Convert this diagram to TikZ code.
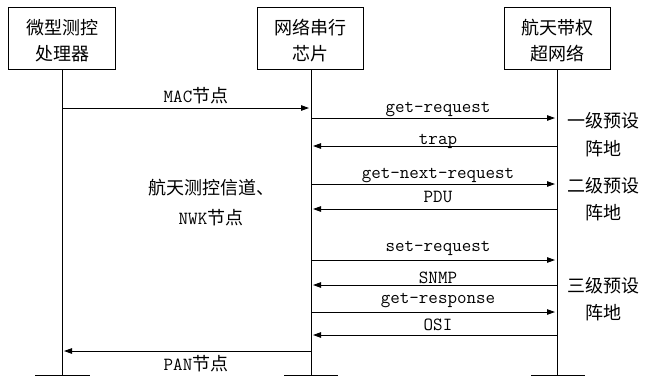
\documentclass[tikz,border=0pt]{standalone}
\usepackage{fontspec}
\newfontfamily\cjkf{Noto Sans CJK SC}
\newcommand\zh[1]{{\cjkf\fontsize{18bp}{20bp}\selectfont #1}}
\usetikzlibrary{arrows.meta}
\begin{document}
\begin{tikzpicture}[x=1bp,y=-1bp,
 box/.style={draw,line width=1bp,minimum width=106bp,minimum height=62bp,inner sep=0pt},
 life/.style={line width=1bp},
 msg/.style={line width=1bp,-{Triangle[length=8bp,width=5.5bp]},shorten >=2bp},
 lbl/.style={anchor=base,inner sep=0pt,font=\ttfamily\fontsize{18.5bp}{20bp}\selectfont},
 zhl/.style={anchor=base,inner sep=0pt,font=\cjkf\fontsize{18bp}{20bp}\selectfont}]
\useasboundingbox (0,0) rectangle (648,377);
% actors
\node[box] (b1) at (62,38) {};
\node[box] (b2) at (310,38) {};
\node[box] (b3) at (557,38) {};
\node[zhl] (b1t) at (62,34.5) {微型测控};
\node[zhl] (b1u) at (62,60) {处理器};
\node[zhl] (b2t) at (310,34.5) {网络串行};
\node[zhl] (b2u) at (310,60) {芯片};
\node[zhl] (b3t) at (557,34.5) {航天带权};
\node[zhl] (b3u) at (557,60) {超网络};
% ground points
\coordinate (g1) at (62,375);
\coordinate (g2) at (311,375);
\coordinate (g3) at (557,375);
\draw[life] (b1.south) -- (g1);
\draw[life] (b2.south -| g2) -- (g2);
\draw[life] (b3.south) -- (g3);
\draw[life] ([xshift=-27bp]g1) -- ([xshift=28bp]g1);
\draw[life] ([xshift=-27bp]g2) -- ([xshift=27bp]g2);
\draw[life] ([xshift=-26bp]g3) -- ([xshift=28bp]g3);
% message end points
\coordinate (m1a) at (62,108);  \coordinate (m1b) at (311,108);
\coordinate (m2a) at (311,118); \coordinate (m2b) at (557,118);
\coordinate (m3a) at (557,146); \coordinate (m3b) at (311,146);
\coordinate (m4a) at (311,184); \coordinate (m4b) at (557,184);
\coordinate (m5a) at (557,209); \coordinate (m5b) at (311,209);
\coordinate (m6a) at (311,260); \coordinate (m6b) at (557,260);
\coordinate (m7a) at (557,285); \coordinate (m7b) at (311,285);
\coordinate (m8a) at (311,312); \coordinate (m8b) at (557,312);
\coordinate (m9a) at (557,335); \coordinate (m9b) at (311,335);
\coordinate (m10a) at (311,351); \coordinate (m10b) at (62,351);
\draw[msg] (m1a) -- (m1b);
\draw[msg] (m2a) -- (m2b);
\draw[msg] (m3a) -- (m3b);
\draw[msg] (m4a) -- (m4b);
\draw[msg] (m5a) -- (m5b);
\draw[msg] (m6a) -- (m6b);
\draw[msg] (m7a) -- (m7b);
\draw[msg] (m8a) -- (m8b);
\draw[msg] (m9a) -- (m9b);
\draw[msg] (m10a) -- (m10b);
% message labels
\node[lbl] (l1) at (196,102) {MAC\zh{节点}};
\node[lbl] (l2) at (438,112) {get-request};
\node[lbl] (l3) at (438,144) {trap};
\node[lbl] (l4) at (438,178) {get-next-request};
\node[lbl] (l5) at (438,202) {PDU};
\node[lbl] (l6) at (438,251) {set-request};
\node[lbl] (l7) at (438,283) {SNMP};
\node[lbl] (l8) at (438,303) {get-response};
\node[lbl] (l9) at (438,330) {OSI};
\node[lbl] (l10) at (196,370) {PAN\zh{节点}};
% middle label
\node[zhl] (c1) at (211,194) {航天测控信道、};
\node[lbl] (c2) at (211,224) {NWK\zh{节点}};
% side labels
\node[zhl] (s1a) at (603,127) {一级预设};
\node[zhl] (s1b) at (603,155) {阵地};
\node[zhl] (s2a) at (603,192) {二级预设};
\node[zhl] (s2b) at (603,219) {阵地};
\node[zhl] (s3a) at (603,292) {三级预设};
\node[zhl] (s3b) at (603,319) {阵地};
\end{tikzpicture}
\end{document}
